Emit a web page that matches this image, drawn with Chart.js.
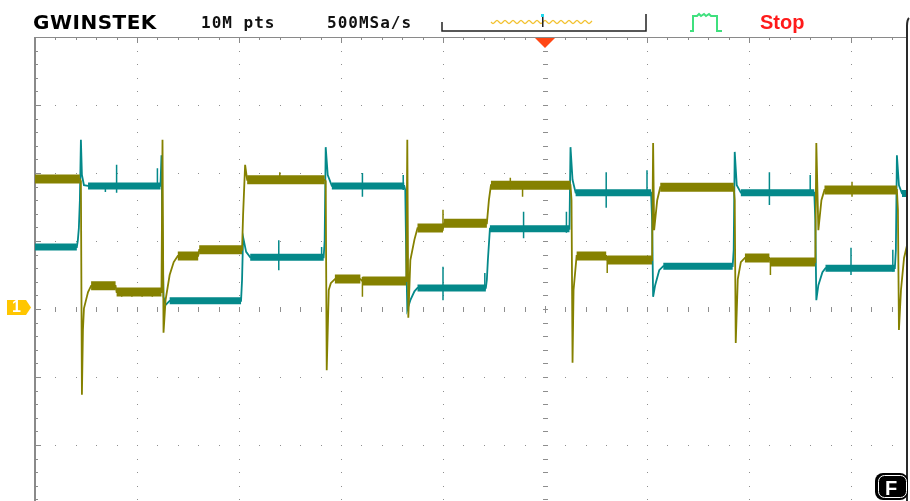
<!DOCTYPE html>
<html>
<head>
<meta charset="utf-8">
<script src="https://cdn.jsdelivr.net/npm/chart.js@4.4.0/dist/chart.umd.min.js"></script>
<style>
  html, body { margin: 0; padding: 0; background: #fff; }
  #scope { position: relative; width: 910px; height: 501px; overflow: hidden; }
  #scope canvas { position: absolute; left: 0; top: 0; }
  .hud { position: absolute; white-space: nowrap; }
  .logo { left: 33px; top: 12px; font: bold 20px "DejaVu Sans"; line-height: 20px; letter-spacing: 0.5px; color: #000; }
  .info { top: 15px; font: bold 16px "DejaVu Sans Mono"; line-height: 16px; letter-spacing: 1px; color: #111; }
  .stop { left: 760px; top: 12px; font: bold 20px "Liberation Sans"; line-height: 20px; color: #ff1a1a; }
  .chmark { left: 12px; top: 299px; font: bold 16px "Liberation Sans"; line-height: 16px; color: #fff; }
  .fmark { left: 885px; top: 477px; font: bold 20px "Liberation Sans"; line-height: 22px; color: #fff; }
</style>
</head>
<body>
<div id="scope">
  <canvas id="screen" width="910" height="501"></canvas>
  <span class="hud logo">GWINSTEK</span>
  <span class="hud info" style="left:201px">10M pts</span>
  <span class="hud info" style="left:327px">500MSa/s</span>
  <span class="hud stop">Stop</span>
  <span class="hud chmark">1</span>
  <span class="hud fmark">F</span>
</div>
<script>
// screen window, in divisions from the trigger point / channel ground
var X_MIN = -5, X_MAX = 3.549;
var Y_MIN = -2.824, Y_MAX = 4;

// olive trace: time (div) and level (div)
var olvTime = [-5.00, -4.56, -4.55, -4.54, -4.53, -4.52, -4.50, -4.48, -4.45, -4.21,
  -4.20, -3.76, -3.75, -3.74, -3.72, -3.68, -3.64, -3.60, -3.40, -3.39,
  -2.97, -2.96, -2.94, -2.92, -2.16, -2.15, -2.14, -2.12, -2.10, -2.06,
  -1.81, -1.79, -1.36, -1.35, -1.34, -1.32, -1.28, -1.25, -1.00, -0.99,
  -0.57, -0.55, -0.53, 0.25, 0.26, 0.27, 0.28, 0.31, 0.60, 0.61,
  1.05, 1.06, 1.07, 1.10, 1.13, 1.85, 1.86, 1.87, 1.89, 1.92,
  1.96, 2.20, 2.21, 2.65, 2.66, 2.68, 2.71, 2.74, 3.45, 3.46,
  3.47, 3.49, 3.52, 3.55];
var olvLevel = [1.91, 1.91, 1.88, -1.26, -0.31, 0.01, 0.13, 0.25, 0.34, 0.34,
  0.25, 0.25, 2.49, -0.35, 0.13, 0.50, 0.69, 0.78, 0.78, 0.87,
  0.87, 1.38, 2.12, 1.90, 1.90, 1.88, -0.90, 0.28, 0.38, 0.44,
  0.44, 0.41, 0.41, 2.49, -0.13, 0.72, 1.02, 1.19, 1.19, 1.26,
  1.26, 1.60, 1.82, 1.82, 1.60, -0.79, 0.28, 0.78, 0.78, 0.72,
  0.72, 2.44, 1.16, 1.60, 1.79, 1.79, 1.60, -0.50, 0.44, 0.69,
  0.75, 0.75, 0.69, 0.69, 2.44, 1.16, 1.60, 1.75, 1.75, 1.46,
  -0.31, 0.28, 0.75, 0.94];
// short glitches riding on the olive plateaus
var olvGlitchTime = [-4.15, -4.05, -3.95, -3.85, -2.60, -1.79, -1.00, -0.34, -0.22, 0.61, 2.21, 3.01];
var olvGlitchHigh = [0.28, 0.28, 0.28, 0.28, 2.01, 0.47, 1.46, 1.93, 1.88, 0.78, 0.75, 1.87];
var olvGlitchLow = [0.18, 0.18, 0.18, 0.18, 1.85, 0.18, 1.15, 1.76, 1.65, 0.53, 0.50, 1.65];

// teal trace
var tealTime = [-5.00, -4.59, -4.58, -4.57, -4.56, -4.55, -4.54, -4.52, -4.48, -3.77,
  -3.76, -3.75, -3.74, -3.72, -3.68, -2.98, -2.97, -2.96, -2.93, -2.89,
  -2.17, -2.16, -2.15, -2.13, -2.09, -1.38, -1.37, -1.36, -1.35, -1.32,
  -1.28, -1.25, -0.58, -0.57, -0.56, -0.54, 0.24, 0.25, 0.27, 0.30,
  1.04, 1.05, 1.06, 1.08, 1.12, 1.16, 1.84, 1.85, 1.86, 1.88,
  1.92, 2.64, 2.65, 2.66, 2.68, 2.72, 2.75, 3.43, 3.44, 3.45,
  3.47, 3.50, 3.55];
var tealLevel = [0.91, 0.91, 1.01, 1.19, 1.60, 2.49, 1.97, 1.82, 1.81, 1.81,
  2.26, 1.01, 0.18, 0.06, 0.12, 0.12, 0.43, 1.06, 0.84, 0.76,
  0.76, 1.01, 2.38, 1.97, 1.81, 1.81, 1.75, 0.72, -0.01, 0.13,
  0.26, 0.31, 0.31, 0.43, 0.72, 1.18, 1.18, 2.38, 1.90, 1.71,
  1.71, 1.31, 0.18, 0.35, 0.57, 0.63, 0.63, 0.87, 2.31, 1.82,
  1.71, 1.71, 1.31, 0.13, 0.35, 0.54, 0.60, 0.60, 0.87, 2.26,
  1.82, 1.70, 1.70];
var tealGlitchTime = [-4.31, -4.20, -3.80, -2.61, -2.19, -1.79, -1.39, -1.00, -0.59, -0.21,
  0.21, 0.60, 1.00, 2.20, 2.60, 3.00, 3.41];
var tealGlitchHigh = [1.85, 2.12, 2.07, 1.01, 0.91, 2.00, 1.97, 0.62, 0.53, 1.43,
  1.43, 2.01, 2.04, 2.01, 1.97, 0.90, 0.87];
var tealGlitchLow = [1.72, 1.71, 1.78, 0.57, 0.72, 1.65, 1.75, 0.13, 0.28, 1.04,
  1.12, 1.49, 1.66, 1.53, 1.66, 0.50, 0.55];

var OLIVE = '#858100';
var TEAL = '#04898a';

function toPoints(t, v) {
  return t.map(function (x, i) { return { x: x, y: v[i] }; });
}

// flat stretches get drawn as a thick band (the noise envelope of the trace)
function flatRuns(pts) {
  var out = [];
  for (var i = 0; i < pts.length - 1; i++) {
    var a = pts[i], b = pts[i + 1];
    if (a.y === b.y && b.x - a.x > 0.04) {
      out.push(a, b, { x: b.x, y: null });
    }
  }
  return out;
}

// vertical glitch strokes, broken apart with nulls
function glitches(t, hi, lo) {
  var out = [];
  t.forEach(function (x, i) {
    out.push({ x: x, y: lo[i] }, { x: x, y: hi[i] }, { x: x, y: null });
  });
  return out;
}

var olvPts = toPoints(olvTime, olvLevel);
var tealPts = toPoints(tealTime, tealLevel);

var scopeGrid = {
  id: 'scopeGrid',
  beforeDatasetsDraw: function (chart) {
    var ctx = chart.ctx, a = chart.chartArea;
    var xs = chart.scales.x, ys = chart.scales.y;
    var k, m, px, py;
    ctx.save();
    ctx.fillStyle = '#8e8e8e';

    // dotted division lines
    for (k = -4; k <= 3; k++) {
      if (k === 0) continue;
      px = Math.round(xs.getPixelForValue(k));
      for (m = -14; m <= 20; m++) {
        py = Math.round(ys.getPixelForValue(m / 5));
        if (py > a.top + 4) ctx.fillRect(px, py, 1, 1);
      }
    }
    for (k = -2; k <= 3; k++) {
      if (k === 0) continue;
      py = Math.round(ys.getPixelForValue(k));
      for (m = -24; m <= 17; m++) {
        px = Math.round(xs.getPixelForValue(m / 5));
        if (px > a.left + 4) ctx.fillRect(px, py, 1, 1);
      }
    }

    // centre cross with minor ticks
    var cx = Math.round(xs.getPixelForValue(0));
    var cy = Math.round(ys.getPixelForValue(0));
    for (m = -14; m <= 20; m++) {
      py = Math.round(ys.getPixelForValue(m / 5));
      ctx.fillRect(cx - 2, py, 5, 1);
    }
    for (m = -24; m <= 17; m++) {
      px = Math.round(xs.getPixelForValue(m / 5));
      ctx.fillRect(px, cy - 2, 1, 5);
    }
    ctx.fillRect(cx, cy - 3, 1, 7);

    // frame, top and left, with ruler ticks
    ctx.fillStyle = '#8a8a8a';
    ctx.fillRect(a.left, a.top, a.right - a.left, 1);
    ctx.fillRect(a.left - 1, a.top, 2, a.bottom - a.top);
    for (m = -24; m <= 17; m++) {
      px = Math.round(xs.getPixelForValue(m / 5));
      ctx.fillRect(px, a.top, 1, m % 5 === 0 ? 6 : 3);
    }
    for (m = -14; m <= 20; m++) {
      py = Math.round(ys.getPixelForValue(m / 5));
      ctx.fillRect(a.left, py, m % 5 === 0 ? 6 : 3, 1);
    }
    ctx.restore();
  }
};

var scopeHud = {
  id: 'scopeHud',
  afterDraw: function (chart) {
    var ctx = chart.ctx, a = chart.chartArea;
    var xs = chart.scales.x, ys = chart.scales.y;
    var i;
    ctx.save();

    // memory bracket
    ctx.strokeStyle = '#222';
    ctx.lineWidth = 1.5;
    ctx.beginPath();
    ctx.moveTo(442, 22); ctx.lineTo(442, 31); ctx.lineTo(646, 31); ctx.lineTo(646, 14);
    ctx.stroke();

    // memory overview squiggle
    ctx.strokeStyle = '#f2c12e';
    ctx.lineWidth = 1.2;
    ctx.beginPath();
    for (i = 0; i <= 101; i++) {
      var wy = 22 + 1.6 * Math.sin(i / 8 * 2 * Math.PI);
      if (i === 0) ctx.moveTo(491 + i, wy); else ctx.lineTo(491 + i, wy);
    }
    ctx.stroke();
    ctx.fillStyle = '#222';
    ctx.fillRect(542, 17, 1.5, 10);
    ctx.fillStyle = '#22d8ee';
    ctx.fillRect(541, 14, 3, 3);

    // trigger mode icon
    ctx.strokeStyle = '#3fe07e';
    ctx.lineWidth = 2;
    ctx.beginPath();
    ctx.moveTo(690, 31); ctx.lineTo(693, 31); ctx.lineTo(693, 16);
    ctx.lineTo(697, 16); ctx.lineTo(699, 14); ctx.lineTo(701, 16);
    ctx.lineTo(704, 14); ctx.lineTo(706, 16); ctx.lineTo(709, 14);
    ctx.lineTo(711, 16); ctx.lineTo(717, 16); ctx.lineTo(717, 31); ctx.lineTo(722, 31);
    ctx.stroke();

    // trigger position marker
    var tx = xs.getPixelForValue(0);
    ctx.fillStyle = '#ff4614';
    ctx.beginPath();
    ctx.moveTo(tx - 10, a.top + 1); ctx.lineTo(tx + 10, a.top + 1); ctx.lineTo(tx, a.top + 11);
    ctx.closePath();
    ctx.fill();

    // channel ground marker
    var gy = ys.getPixelForValue(0);
    ctx.fillStyle = '#ffc600';
    ctx.beginPath();
    ctx.moveTo(7, gy - 9); ctx.lineTo(26, gy - 9); ctx.lineTo(31, gy - 1.5);
    ctx.lineTo(26, gy + 6); ctx.lineTo(7, gy + 6);
    ctx.closePath();
    ctx.fill();

    // right bezel edge
    ctx.strokeStyle = '#2a2a2a';
    ctx.lineWidth = 2;
    ctx.beginPath();
    ctx.moveTo(909, 18); ctx.quadraticCurveTo(907, 20, 907, 26); ctx.lineTo(907, 501);
    ctx.stroke();

    // function badge
    ctx.fillStyle = '#000';
    ctx.beginPath();
    ctx.roundRect(875, 473, 33, 27, 8);
    ctx.fill();
    ctx.strokeStyle = '#fff';
    ctx.lineWidth = 1;
    ctx.beginPath();
    ctx.roundRect(878.5, 475.5, 28, 22, 6);
    ctx.stroke();
    ctx.restore();
  }
};

var ctx = document.getElementById('screen').getContext('2d');
window.scopeChart = new Chart(ctx, {
  type: 'scatter',
  data: {
    datasets: [
      { data: olvPts, showLine: true, borderColor: OLIVE, borderWidth: 1.8, pointRadius: 0 },
      { data: flatRuns(olvPts), showLine: true, spanGaps: false, borderColor: OLIVE, borderWidth: 9, borderCapStyle: 'butt', pointRadius: 0 },
      { data: glitches(olvGlitchTime, olvGlitchHigh, olvGlitchLow), showLine: true, spanGaps: false, borderColor: OLIVE, borderWidth: 1.5, pointRadius: 0 },
      { data: tealPts, showLine: true, borderColor: TEAL, borderWidth: 1.8, pointRadius: 0 },
      { data: flatRuns(tealPts), showLine: true, spanGaps: false, borderColor: TEAL, borderWidth: 7, borderCapStyle: 'butt', pointRadius: 0 },
      { data: glitches(tealGlitchTime, tealGlitchHigh, tealGlitchLow), showLine: true, spanGaps: false, borderColor: TEAL, borderWidth: 1.5, pointRadius: 0 }
    ]
  },
  options: {
    responsive: false,
    animation: false,
    devicePixelRatio: 1,
    layout: { padding: { left: 35, top: 37, right: 3, bottom: 0 } },
    scales: {
      x: { type: 'linear', min: X_MIN, max: X_MAX, display: false },
      y: { type: 'linear', min: Y_MIN, max: Y_MAX, display: false }
    },
    plugins: {
      legend: { display: false },
      tooltip: { enabled: false }
    }
  },
  plugins: [scopeGrid, scopeHud]
});
</script>
</body>
</html>
